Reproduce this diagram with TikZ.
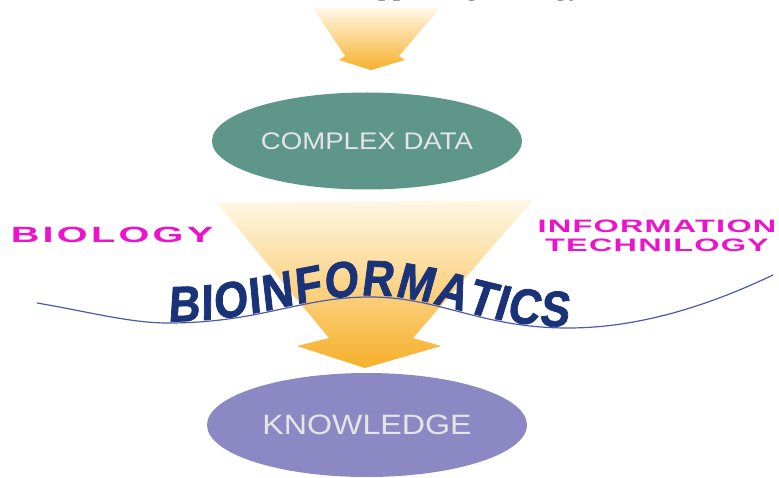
\documentclass[tikz,border=0pt]{standalone}
\usepackage{fontspec}
\usepackage{tikz}
\usetikzlibrary{shapes.geometric,decorations.text}
\setmainfont{Liberation Serif}
\newfontfamily\ovalfont[FakeStretch=1.15]{Liberation Sans}
\newfontfamily\biofont[FakeStretch=1.8,LetterSpace=15]{Liberation Sans}
\newfontfamily\itfont[FakeStretch=1.8,LetterSpace=7]{Liberation Sans}
\newfontfamily\wordfont[FakeStretch=0.88,FakeSlant=0.1,FakeBold=1.5]{Liberation Sans Bold}
\newcommand\wordstyle{\wordfont\fontsize{50}{50}\selectfont}
\definecolor{dataC}{HTML}{5E968A}
\definecolor{knowC}{HTML}{8C88C4}
\definecolor{pinkC}{HTML}{EE12CC}
\definecolor{waveC}{HTML}{4F5AA8}
\definecolor{wordC}{HTML}{1A3278}
\definecolor{paleC}{HTML}{FFF8E6}
\definecolor{midC}{HTML}{FCE08E}
\definecolor{deepC}{HTML}{F7B02A}

\tikzset{
  oval/.style={ellipse,inner sep=0pt,text=white!90!black},
  tag/.style={text=pinkC,inner sep=0pt,font=\bfseries}
}

\begin{document}
\begin{tikzpicture}[x=1pt,y=-1pt]
  \useasboundingbox (0,0) rectangle (779,478);
  \clip (0,0) rectangle (779,478);
  \fill[white] (0,0) rectangle (779,478);

  % caption line, mostly above the page
  \node[anchor=base west,inner sep=0pt,font=\fontsize{30}{30}\selectfont] (cap) at (346,-5) {Supporting Biology};

  % small arrow into the data
  \shade[top color=paleC,bottom color=deepC]
    (313,8) -- (440,8) -- (399,56) -- (405,60) -- (371,70) -- (339,60) -- (345,56) -- cycle;

  \node[oval,fill=dataC,minimum width=310pt,minimum height=97pt,
        font=\ovalfont\fontsize{24}{24}\selectfont] (data) at (367,141) {COMPLEX DATA};

  % big funnel arrow
  \shade[top color=paleC,middle color=midC,bottom color=deepC]
    (217,203) -- (533,200) -- (413,338) -- (441,346) -- (365,368) -- (297,346) -- (329,338) -- cycle;

  \node[oval,fill=knowC,minimum width=320pt,minimum height=104pt,
        font=\ovalfont\fontsize{28}{28}\selectfont] (know) at (367,425) {KNOWLEDGE};

  % the wave
  \coordinate (w0) at (37,303);
  \coordinate (w1) at (168,323);
  \coordinate (w2) at (370,297);
  \coordinate (w3) at (568,328);
  \coordinate (w4) at (773,275);
  \draw[waveC,line width=1.2pt]
    (w0) .. controls (90,312) and (130,323) .. (w1)
         .. controls (260,323) and (300,297) .. (w2)
         .. controls (440,297) and (480,328) .. (w3)
         .. controls (640,328) and (710,305) .. (w4);
  \path[decorate,decoration={text along path,text align={fit to path},
        text color=wordC,raise=1.5pt,
        text={|\wordstyle|BIOINFORMATICS}}]
    (w1) .. controls (260,323) and (300,297) .. (w2)
         .. controls (440,297) and (480,328) .. (w3);

  \node[tag,font=\biofont\bfseries\fontsize{22}{22}\selectfont] (bio) at (112,235) {BIOLOGY};
  \node[tag,align=center,font=\itfont\bfseries\fontsize{18}{19}\selectfont] (it) at (657,236)
    {INFORMATION\\TECHNILOGY};
\end{tikzpicture}
\end{document}
